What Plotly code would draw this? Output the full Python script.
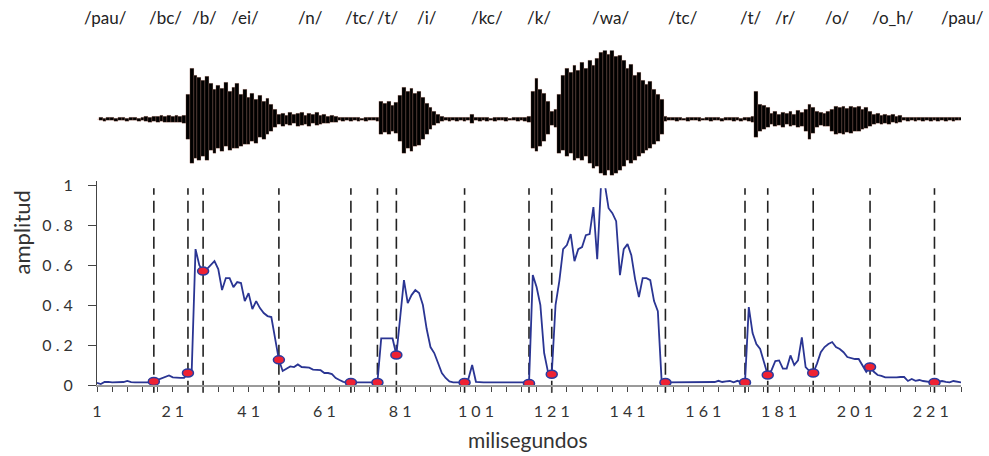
import plotly.graph_objects as go

# ---------------- data ----------------
ms = list(range(1, 230))

amplitude = [
    .011, .005, .015, .016, .013, .013, .013, .015, .02, .014,
    .013, .013, .013, .013, .013, .018, .026, .036, .044, .048,
    .038, .036, .036, .036, .06, .075, .68, .60, .57, .58,
    .60, .62, .58, .475, .535, .535, .49, .515, .51, .42,
    .46, .38, .42, .385, .36, .345, .34, .24, .126, .07,
    .08, .093, .09, .103, .09, .088, .087, .077, .075, .074,
    .06, .06, .055, .035, .025, .016, .013, .013, .013, .013,
    .013, .013, .013, .013, .013, .233, .233, .233, .233, .15,
    .34, .525, .41, .45, .475, .46, .40, .28, .19, .16,
    .11, .06, .035, .018, .013, .013, .013, .013, .03, .10,
    .016, .013, .013, .013, .013, .013, .013, .013, .013, .013,
    .013, .013, .013, .013, .008, .55, .49, .40, .16, .066,
    .054, .40, .52, .68, .70, .755, .62, .68, .69, .75,
    .755, .89, .63, 1.0, 1.005, .885, .86, .82, .55, .68,
    .705, .65, .53, .44, .535, .535, .525, .42, .37, .02,
    .013, .013, .013, .013, .013, .013, .013, .013, .013, .013,
    .013, .013, .013, .015, .021, .015, .018, .02, .013, .021,
    .015, .013, .39, .26, .205, .18, .115, .05, .074, .12,
    .123, .082, .082, .148, .10, .123, .238, .09, .07, .06,
    .107, .164, .19, .205, .215, .19, .18, .164, .14, .135,
    .13, .13, .10, .066, .09, .066, .05, .046, .038, .037,
    .036, .038, .04, .04, .02, .03, .021, .025, .02, .016,
    .014, .013, .015, .02, .016, .013, .02, .015, .013,
]

boundaries = [16, 25, 29, 49, 68, 75, 80, 98, 115, 121, 151, 172, 178, 190, 205, 222]

phonemes = ["/pau/", "/bc/", "/b/", "/ei/", "/n/", "/tc/", "/t/", "/i/", "/kc/",
            "/k/", "/wa/", "/tc/", "/t/", "/r/", "/o/", "/o_h/", "/pau/"]
phoneme_ms = [3.3, 19.0, 29.3, 40.1, 57.3, 70.3, 77.9, 88.2, 104.0,
              117.7, 136.4, 155.7, 173.6, 182.6, 196.3, 211.1, 229.3]

# waveform envelope (arbitrary units, up / down from the centre line)
wave_top = (
    [0, 1.5, 1, 2, 1.5, 1, 2, 1.5, 1, 2]
    + [1.5, 1, 2, 2.5, 2, 3, 2.5, 3.5, 3, 4]
    + [3, 3.5, 2.5, 4]
    + [25, 52, 45, 43, 40, 44]
    + [36, 30, 34, 31, 37, 28, 32, 36]
    + [25, 30, 22, 26, 20, 24, 18, 21, 15, 10]
    + [5, 6, 4, 7, 5, 6, 7, 4, 6, 5, 7, 4, 5, 3, 4, 3]
    + [2, 1.5, 2, 1.5, 2, 1.5, 1, 2, 1.5, 2, 1.5]
    + [18, 16, 18, 14, 17, 24]
    + [32, 28, 31, 26, 28]
    + [22, 16, 12, 8, 5]
    + [3, 2, 1.5, 2, 1.5, 2, 1.5, 2]
    + [5]
    + [2, 1.5, 2, 1.5, 1, 2, 1.5, 2, 1.5, 1, 2, 1.5, 2, 1.5, 3]
    + [28, 42, 30, 26, 18, 8]
    + [10]
    + [25, 45, 52, 48, 55, 50, 58, 52, 60, 55, 62, 68, 72, 66, 72, 64, 65, 60,
       52, 56, 45, 48, 40, 35, 38, 30, 25, 20]
    + [3, 2, 1.5, 2, 1.5, 1, 2, 1.5, 2, 1.5, 1, 2, 1.5, 2, 1.5, 1, 2, 1.5, 2,
       1.5, 1, 2, 2, 3]
    + [28, 15, 14, 12]
    + [6, 8, 5, 7, 6, 8, 5, 9, 7, 10]
    + [15, 12, 8]
    + [7, 6, 8]
    + [10, 13, 12, 13, 11, 13, 12, 13, 10, 12, 8]
    + [5, 6, 4, 5, 4, 5, 3, 4]
    + [2, 1.5, 2, 1.5, 2, 1.5, 2, 1.5, 2, 1.5, 2, 1.5, 2, 1.5, 2, 1.5]
)
wave_bottom = (
    [0, 1.5, 2, 1, 1.5, 2, 1, 1.5, 2, 1]
    + [1.5, 2, 1, 2.5, 3, 2, 3, 2.5, 3.5, 3]
    + [3.5, 3, 3, 4]
    + [20, 45, 40, 42, 38, 42]
    + [32, 35, 30, 33, 28, 32, 30, 30]
    + [28, 25, 26, 22, 24, 18, 20, 15, 12, 8]
    + [5, 7, 5, 6, 4, 7, 6, 5, 7, 4, 6, 5, 4, 4, 3, 3]
    + [1.5, 2, 1.5, 2, 1, 2, 1.5, 2, 1.5, 1, 2]
    + [15, 13, 15, 12, 14, 22]
    + [35, 30, 33, 28, 27]
    + [20, 15, 10, 6, 4]
    + [2, 1.5, 2, 1, 2, 1.5, 2, 1.5]
    + [4]
    + [1.5, 2, 1, 2, 1.5, 2, 1, 1.5, 2, 1.5, 1, 2, 1.5, 2, 3]
    + [30, 33, 28, 22, 15, 6]
    + [8]
    + [35, 32, 38, 35, 42, 40, 42, 38, 45, 50, 48, 55, 57, 52, 57, 55, 52, 48,
       42, 45, 42, 38, 35, 32, 30, 26, 22, 15]
    + [2, 1.5, 1, 2, 1.5, 1, 2, 1.5, 1, 2, 1.5, 1, 2, 1.5, 1, 2, 1.5, 1, 2,
       1.5, 2, 1.5, 2, 3]
    + [18, 12, 10, 8]
    + [5, 7, 6, 8, 5, 7, 6, 8, 7, 12]
    + [20, 14, 8]
    + [6, 7, 7]
    + [12, 15, 14, 15, 13, 14, 12, 12, 10, 9, 7]
    + [5, 4, 5, 4, 5, 3, 4, 3]
    + [1.5, 2, 1.5, 2, 1, 2, 1.5, 2, 1.5, 2, 1, 2, 1.5, 2, 1.5, 1]
)

x_label_vals = [1, 21, 41, 61, 81, 101, 121, 141, 161, 181, 201, 221]
x_label_text = ["1", "2 1", "4 1", "6 1", "8 1", "1 0 1", "1 2 1", "1 4 1",
                "1 6 1", "1 8 1", "2 0 1", "2 2 1"]
y_tick_vals = [0, 0.2, 0.4, 0.6, 0.8, 1.0]
y_tick_text = ["0", "0 . 2", "0 . 4", "0 . 6", "0 . 8", "1"]

# ---------------- figure ----------------
FONT = "Lato, 'Noto Sans', sans-serif"
X_RANGE = [1, 229]
fig = go.Figure()

fig.add_trace(go.Bar(
    x=ms,
    y=[t + b for t, b in zip(wave_top, wave_bottom)],
    base=[-b for b in wave_bottom],
    yaxis="y2",
    marker=dict(color="#000000", line=dict(color="#ef9a80", width=0.2)),
    hoverinfo="skip",
))

fig.add_trace(go.Scatter(
    x=ms, y=amplitude, mode="lines",
    line=dict(color="#2a3593", width=1.8),
    hoverinfo="skip",
))

shapes = []
for b in boundaries:
    shapes.append(dict(
        type="line", xref="x", yref="paper", x0=b, x1=b, y0=-0.0213, y1=0.712,
        line=dict(color="#222222", width=1.6, dash="12px,6px"), layer="below",
    ))
for b in boundaries:
    v = amplitude[ms.index(b)]
    shapes.append(dict(
        type="circle", xref="x", yref="y", xsizemode="pixel", ysizemode="pixel",
        xanchor=b, yanchor=v, x0=-5.5, x1=5.5, y0=-4, y1=4,
        fillcolor="#ee2233", line=dict(color="#2b3a9e", width=1.5), layer="above",
    ))

# tick arrays: minor ticks every 4 ms, labels every 20
all_ticks = list(range(1, 230, 4))
all_text = [x_label_text[x_label_vals.index(t)] if t in x_label_vals else "" for t in all_ticks]

annotations = []
for name, pos in zip(phonemes, phoneme_ms):
    annotations.append(dict(
        x=(pos - X_RANGE[0]) / (X_RANGE[1] - X_RANGE[0]), y=0.9946,
        xref="paper", yref="paper", text=name, showarrow=False,
        xanchor="center", yanchor="middle",
        font=dict(family=FONT, size=17, color="#222222"),
    ))
annotations.append(dict(
    x=0.499, y=-0.148, xref="paper", yref="paper", text="milisegundos",
    showarrow=False, xanchor="center", yanchor="middle",
    font=dict(family=FONT, size=21, color="#333333"),
))
annotations.append(dict(
    x=-0.087, y=0.413, xref="paper", yref="paper", text="amplitud",
    showarrow=False, textangle=-90, xanchor="center", yanchor="middle",
    font=dict(family=FONT, size=22, color="#333333"),
))

fig.update_layout(
    width=989, height=456,
    margin=dict(l=97, r=28, t=10, b=71),
    paper_bgcolor="white", plot_bgcolor="white",
    showlegend=False, bargap=0,
    shapes=shapes, annotations=annotations,
    xaxis=dict(
        range=X_RANGE, showline=True, linecolor="#9a9a9a", linewidth=1.5,
        ticks="outside", ticklen=5, tickcolor="#444444", tickwidth=1,
        tickmode="array", tickvals=all_ticks, ticktext=all_text,
        tickfont=dict(family=FONT, size=16, color="#333333"),
        ticklabelstandoff=6,
        showgrid=False, zeroline=False, anchor="y",
    ),
    yaxis=dict(
        domain=[0, 0.5523], range=[0, 1.02], showline=True, linecolor="#444444",
        linewidth=1, ticks="outside", ticklen=8, tickcolor="#444444",
        tickmode="array", tickvals=y_tick_vals, ticktext=y_tick_text,
        tickfont=dict(family=FONT, size=16, color="#333333"),
        ticklabelstandoff=12,
        showgrid=False, zeroline=False,
    ),
    yaxis2=dict(
        domain=[0.5333, 0.9067], range=[-70, 70], visible=False, anchor="x",
        showgrid=False, zeroline=False,
    ),
)

fig.write_html("out.html", config={"displayModeBar": False},
               post_script="document.body.style.margin='0px';")
